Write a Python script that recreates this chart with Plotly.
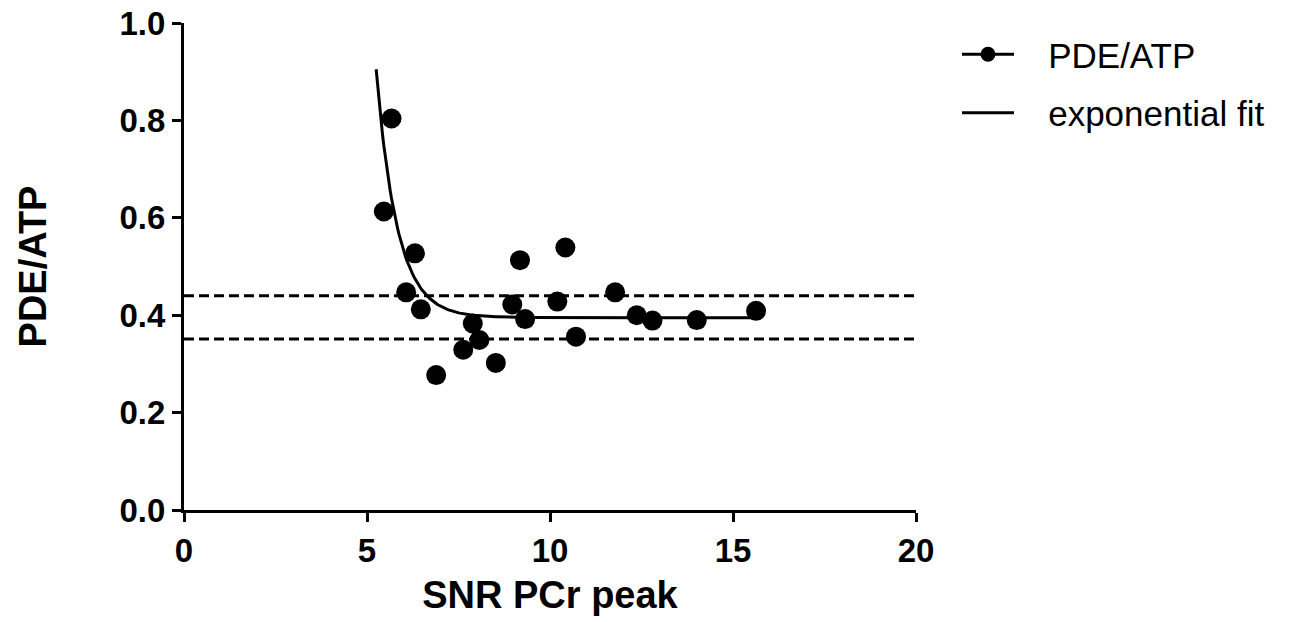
import numpy as np
import plotly.graph_objects as go

# Data
snr = [5.46, 5.67, 6.07, 6.31, 6.47, 6.89, 7.63, 7.89, 8.07, 8.52, 8.97,
       9.18, 9.32, 10.20, 10.42, 10.71, 11.78, 12.37, 12.80, 14.01, 15.63]
pde_atp = [0.613, 0.804, 0.447, 0.527, 0.412, 0.277, 0.329, 0.383, 0.349, 0.302, 0.422,
           0.513, 0.392, 0.428, 0.539, 0.356, 0.447, 0.400, 0.389, 0.390, 0.409]

# exponential fit parameters (plateau + span * exp(-k (x - x0)))
fit_x0 = 5.25
fit_x1 = 15.63
fit_plateau = 0.395
fit_span = 0.51
fit_k = 1.75

# reference band (dashed lines)
band_levels = [0.44, 0.351]

x_ticks = [0, 5, 10, 15, 20]
y_ticks = [0.0, 0.2, 0.4, 0.6, 0.8, 1.0]

fx = np.linspace(fit_x0, fit_x1, 300)
fy = fit_plateau + fit_span * np.exp(-fit_k * (fx - fit_x0))

fig = go.Figure()

for lvl in band_levels:
    fig.add_trace(go.Scatter(x=[0, 20], y=[lvl, lvl], mode="lines",
                             line=dict(color="black", width=3, dash="10px,5px"),
                             showlegend=False, hoverinfo="skip"))

fig.add_trace(go.Scatter(x=fx, y=fy, mode="lines", line=dict(color="black", width=3),
                         showlegend=False))
fig.add_trace(go.Scatter(x=snr, y=pde_atp, mode="markers",
                         marker=dict(color="black", size=20, symbol="circle"),
                         showlegend=False))

# legend entries (non-breaking spaces give the gap between key and label)
pad = "\u00a0\u00a0\u00a0"
fig.add_trace(go.Scatter(x=[None], y=[None], mode="lines+markers", name=pad + "PDE/ATP",
                         legendgroup="a",
                         line=dict(color="black", width=3),
                         marker=dict(color="black", size=15)))
fig.add_trace(go.Scatter(x=[None], y=[None], mode="lines", name=pad + "exponential fit",
                         legendgroup="b",
                         line=dict(color="black", width=3)))

tickfont = dict(family="Liberation Sans, Arial", size=33, color="black", weight="bold")
titlefont = dict(family="Liberation Sans, Arial", size=38, color="black", weight="bold")

fig.update_layout(
    width=1304, height=622,
    margin=dict(l=184, r=388, t=23, b=112, autoexpand=False),
    paper_bgcolor="white", plot_bgcolor="white",
    showlegend=True,
    legend=dict(x=1.056, y=0.996, xanchor="left", yanchor="top",
                font=dict(family="Liberation Sans, Arial", size=35, color="black"),
                itemwidth=52, traceorder="grouped", tracegroupgap=10,
                bgcolor="rgba(0,0,0,0)"),
    xaxis=dict(range=[0, 20], tickvals=x_ticks, ticktext=[str(v) for v in x_ticks],
               showgrid=False, zeroline=False, showline=True, linecolor="black",
               linewidth=3, ticks="outside", ticklen=9, tickwidth=3, tickcolor="black",
               tickfont=tickfont, automargin=False, ticklabeloverflow="allow",
               title=dict(text="SNR PCr peak", font=titlefont, standoff=14)),
    yaxis=dict(range=[0, 1.0], tickvals=y_ticks, ticktext=[f"{v:.1f}" for v in y_ticks],
               showgrid=False, zeroline=False, showline=True, linecolor="black",
               linewidth=3, ticks="outside", ticklen=9, tickwidth=3, tickcolor="black",
               tickfont=tickfont, automargin=False, ticklabeloverflow="allow",
               title=dict(text="PDE/ATP", font=titlefont, standoff=62)),
)

fig.write_html("out.html",
               config={"displayModeBar": False},
               post_script="document.body.style.margin='0';document.body.style.overflow='hidden';")
